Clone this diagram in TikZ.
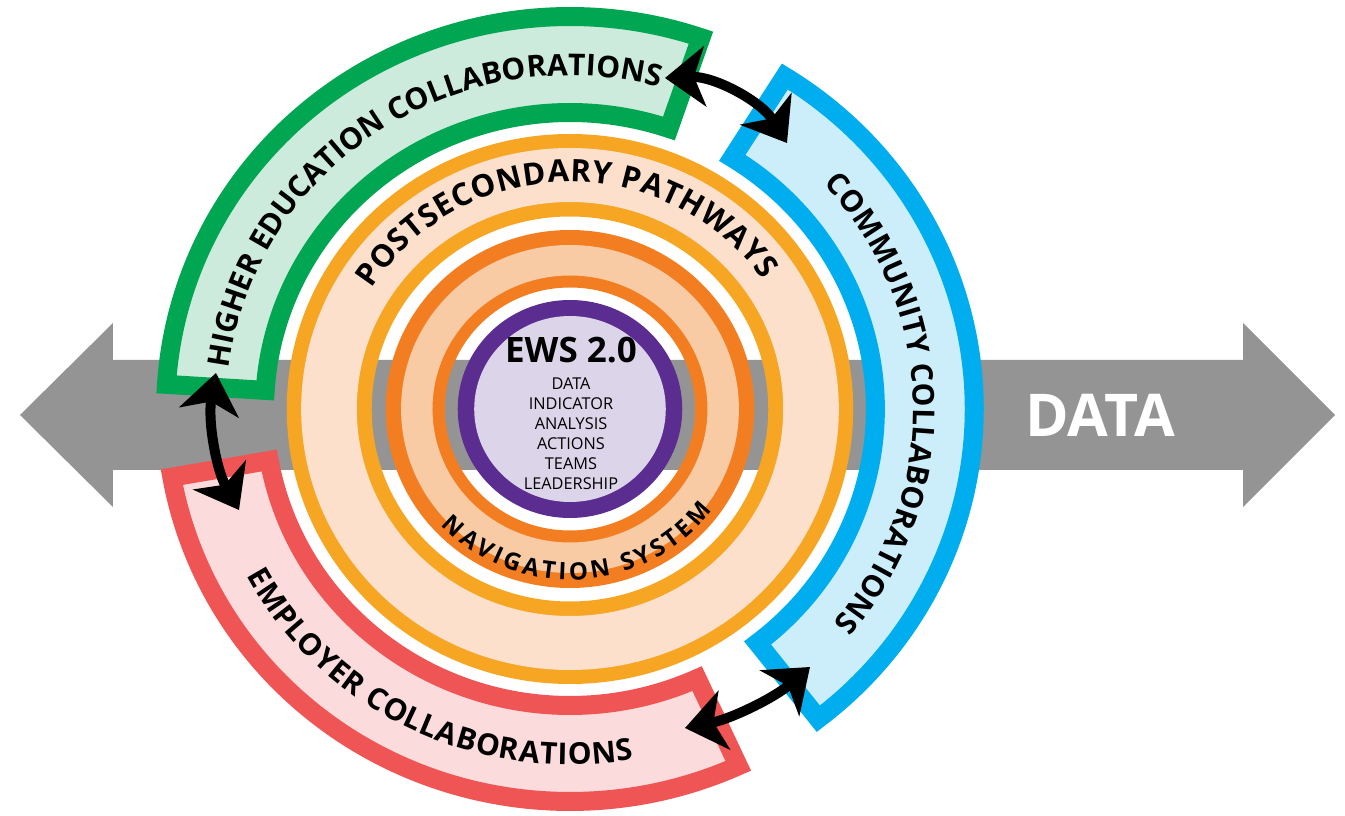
\documentclass[tikz,border=0pt]{standalone}
\usepackage{fontspec}
\setmainfont{Open Sans}
\usetikzlibrary{arrows.meta,decorations.text}
\definecolor{grayband}{RGB}{148,148,148}
\definecolor{greenB}{RGB}{0,166,81}
\definecolor{greenF}{RGB}{204,235,220}
\definecolor{blueB}{RGB}{0,174,239}
\definecolor{blueF}{RGB}{204,238,250}
\definecolor{redB}{RGB}{239,85,84}
\definecolor{redF}{RGB}{251,219,219}
\definecolor{yellowR}{RGB}{246,166,35}
\definecolor{peachF}{RGB}{252,224,203}
\definecolor{orangeR}{RGB}{243,126,33}
\definecolor{orangeF}{RGB}{249,203,165}
\definecolor{purpleR}{RGB}{92,45,145}
\definecolor{purpleF}{RGB}{220,212,232}
\newcommand\bandfont{\bfseries\fontsize{30}{30}\selectfont}
\newcommand\postfont{\bfseries\fontsize{31}{31}\selectfont}
\newcommand\navfont{\bfseries\fontsize{24}{24}\selectfont}
\tikzset{
  bandshape/.style={line width=19pt, line join=miter},
  arctext/.style={decorate, decoration={text along path, text align={fit to path}, text={#1}}},
  dblarrow/.style={line width=10pt, {Stealth[length=40pt,width=60pt,inset=11pt]}-{Stealth[length=40pt,width=60pt,inset=11pt]}},
  listtext/.style={font=\fontsize{16.3}{16.3}\selectfont, anchor=base, inner sep=0pt}
}
\begin{document}
\begin{tikzpicture}[x=1pt,y=1pt]
\useasboundingbox (-570,-407) rectangle (775,409);
% grey DATA double arrow
\fill[grayband] (-550,-6) -- (-457,86) -- (-457,49) -- (673,49) -- (673,86) -- (765,-6)
  -- (673,-98) -- (673,-61) -- (-457,-61) -- (-457,-98) -- cycle;
\begin{scope}[xscale=1.03]
  % postsecondary rings
  \fill[yellowR, even odd rule] (0,0) circle[radius=275] (0,0) circle[radius=192.5];
  \fill[peachF, even odd rule] (0,0) circle[radius=261] (0,0) circle[radius=207];
  % navigation rings
  \fill[orangeR, even odd rule] (0,0) circle[radius=179] (0,0) circle[radius=121.5];
  \fill[orangeF, even odd rule] (0,0) circle[radius=164] (0,0) circle[radius=133.5];
  % EWS core
  \fill[purpleR] (0,0) circle[radius=109];
  \fill[purpleF] (0,0) circle[radius=93];
  % collaboration bands
  \draw[bandshape, greenB, fill=greenF] (71.1:296.5) arc[start angle=71.1, end angle=176.4, radius=296.5]
     -- (176.4:392.5) arc[start angle=176.4, end angle=71.1, radius=392.5] -- cycle;
  \draw[bandshape, blueB, fill=blueF] (-52.1:296.5) arc[start angle=-52.1, end angle=57.9, radius=296.5]
     -- (57.9:392.5) arc[start angle=57.9, end angle=-52.1, radius=392.5] -- cycle;
  \draw[bandshape, redB, fill=redF] (190.0:296.5) arc[start angle=190.0, end angle=294.6, radius=296.5]
     -- (294.6:392.5) arc[start angle=294.6, end angle=190.0, radius=392.5] -- cycle;
  % curved labels
  \path[arctext={|\bandfont|HIGHER EDUCATION COLLABORATIONS}] (173:333.5) arc[start angle=173, end angle=75, radius=333.5];
  \path[arctext={|\bandfont|COMMUNITY COLLABORATIONS}] (42.5:333.5) arc[start angle=42.5, end angle=-40, radius=333.5];
  \path[arctext={|\bandfont|EMPLOYER COLLABORATIONS}] (208:355.5) arc[start angle=208, end angle=280, radius=355.5];
  \path[arctext={|\postfont|POSTSECONDARY PATHWAYS}] (148:227) arc[start angle=148, end angle=34.5, radius=227];
  \path[arctext={|\navfont|NAVIGATION SYSTEM}] (223:171) arc[start angle=223, end angle=323.5, radius=171];
\end{scope}
% centre text
\node[font=\bfseries\fontsize{35}{35}\selectfont, anchor=base, inner sep=0pt] (ews) at (1,46) {EWS 2.0};
\node[listtext] (l1) at (1,19) {DATA};
\node[listtext] (l2) at (1,-1) {INDICATOR};
\node[listtext] (l3) at (1,-21) {ANALYSIS};
\node[listtext] (l4) at (1,-41) {ACTIONS};
\node[listtext] (l5) at (1,-61) {TEAMS};
\node[listtext] (l6) at (1,-81) {LEADERSHIP};
\node[text=white, font=\bfseries\fontsize{59}{59}\selectfont, anchor=base, inner sep=0pt] (data) at (530,-28) {DATA};
% black double arrows between collaboration bands
\coordinate (heR) at (95,331);
\coordinate (coT) at (217,266);
\coordinate (heL) at (-354,36);
\coordinate (emL) at (-331,-101);
\coordinate (emR) at (115,-319);
\coordinate (coB) at (240,-258);
\draw[dblarrow] (heR) .. controls (144,333) and (191,308) .. (coT);
\draw[dblarrow] (heL) .. controls (-362.3,-10.9) and (-354.2,-59.3) .. (emL);
\draw[dblarrow] (emR) .. controls (161.4,-309.8) and (204.1,-288.9) .. (coB);
\end{tikzpicture}
\end{document}
